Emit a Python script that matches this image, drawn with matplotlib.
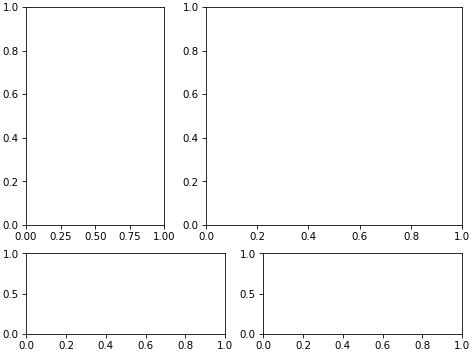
import matplotlib
matplotlib.use("Agg")
import matplotlib.pyplot as plt
from matplotlib.gridspec import GridSpec

# empty axes, default limits 0..1
x_limits = [0.0, 1.0]
y_limits = [0.0, 1.0]

fig = plt.figure(figsize=(6.4, 4.8), dpi=74)

# top row: narrow + wide axes
gs_top = GridSpec(1, 2, figure=fig, left=0.055, right=0.976, bottom=0.366, top=0.980,
                  width_ratios=[138.5, 256.5], wspace=0.21)
# bottom row: two equal short axes
gs_bot = GridSpec(1, 2, figure=fig, left=0.055, right=0.976, bottom=0.059, top=0.286,
                  wspace=0.19)

ax1 = fig.add_subplot(gs_top[0, 0])
ax2 = fig.add_subplot(gs_top[0, 1])
ax3 = fig.add_subplot(gs_bot[0, 0])
ax4 = fig.add_subplot(gs_bot[0, 1])

for ax in (ax1, ax2, ax3, ax4):
    ax.set_xlim(x_limits)
    ax.set_ylim(y_limits)

fig.savefig("out.png", dpi=74)
